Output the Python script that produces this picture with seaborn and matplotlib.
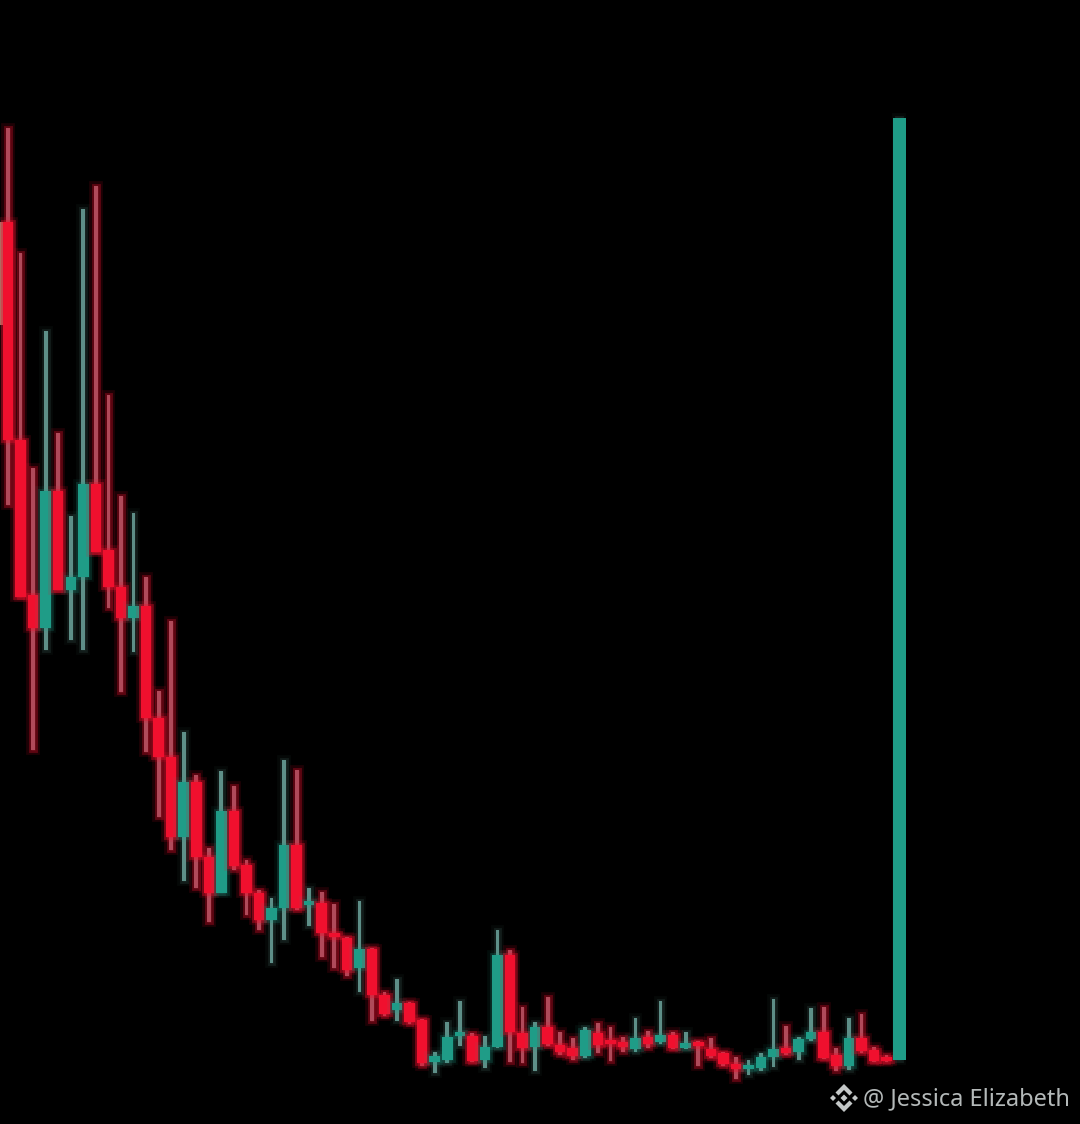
import numpy as np
import pandas as pd
import matplotlib.pyplot as plt
import matplotlib.patheffects as pe
from matplotlib.patches import Polygon
import seaborn as sns

# Candle values, oldest first
opens = [799, 902, 684, 529, 496, 633, 534, 547, 640, 574, 537, 506, 518, 406, 367, 287, 342, 267, 231, 313, 259, 231,
         204, 216, 279, 219, 221, 191, 186, 156, 175, 129, 114, 121, 104, 62, 64, 88, 88, 64, 77, 169, 91, 77, 97, 79,
         76, 68, 91, 82, 82, 75, 87, 82, 89, 76, 81, 75, 71, 60, 55, 56, 67, 76, 72, 85, 92, 69, 58, 86, 74, 66, 64]
highs = [902, 996, 871, 656, 793, 691, 608, 915, 938, 729, 628, 611, 547, 433, 503, 392, 349, 276, 353, 338, 264, 234,
         226, 364, 354, 236, 232, 220, 187, 223, 176, 132, 145, 122, 105, 72, 102, 123, 91, 88, 194, 174, 117, 102,
         127, 92, 86, 97, 101, 97, 87, 106, 93, 123, 92, 92, 83, 86, 72, 67, 64, 71, 125, 98, 87, 116, 117, 76, 106,
         110, 77, 69, 1006]
lows = [799, 619, 527, 374, 474, 534, 484, 474, 572, 516, 432, 472, 372, 307, 274, 243, 236, 202, 231, 254, 209, 194,
        161, 184, 214, 198, 167, 156, 148, 132, 103, 108, 103, 100, 58, 51, 61, 78, 62, 56, 76, 62, 61, 53, 78, 69,
        64, 66, 71, 63, 72, 72, 76, 80, 75, 75, 58, 66, 58, 45, 49, 53, 57, 69, 64, 83, 65, 53, 54, 71, 62, 62, 64]
closes = [902, 684, 527, 496, 633, 534, 547, 640, 572, 537, 506, 518, 406, 367, 287, 342, 267, 231, 313, 258, 231, 204,
          216, 279, 216, 222, 191, 187, 154, 175, 129, 110, 121, 102, 61, 68, 87, 91, 63, 77, 169, 92, 76, 97, 80, 72,
          68, 94, 79, 80, 77, 86, 80, 89, 76, 81, 78, 68, 60, 55, 58, 67, 75, 71, 85, 92, 66, 58, 86, 73, 63, 63, 1006]

RED = '#F0102E'
RED_WICK = '#B04A5A'
GREEN = '#1F9C87'
GREEN_WICK = '#5E8F88'

df = pd.DataFrame({'open': opens, 'high': highs, 'low': lows, 'close': closes})
df['candle'] = np.arange(len(df))
df['up'] = df['close'] >= df['open']
df['body_low'] = df[['open', 'close']].min(axis=1)
df['body_size'] = (df['close'] - df['open']).abs().clip(lower=4)
df['wick_size'] = df['high'] - df['low']


def glow(colour, strength):
    return [pe.withStroke(linewidth=7, foreground=colour, alpha=strength * 0.4),
            pe.withStroke(linewidth=3.5, foreground=colour, alpha=strength),
            pe.Normal()]


sns.set_style('dark')
fig = plt.figure(figsize=(10.8, 11.24), dpi=100, facecolor='black')
ax = fig.add_axes([0, 0, 1, 1])

# Wicks first so the bodies sit on top
sns.barplot(data=df, x='candle', y='wick_size', bottom=df['low'].values, order=list(df['candle']),
            width=0.3, errorbar=None, color=GREEN_WICK, saturation=1, edgecolor='none', ax=ax)
for patch, up in zip(ax.containers[0], df['up']):
    patch.set_facecolor(GREEN_WICK if up else RED_WICK)
    patch.set_path_effects(glow(GREEN_WICK, 0.15) if up else glow(RED, 0.3))

sns.barplot(data=df, x='candle', y='body_size', bottom=df['body_low'].values, order=list(df['candle']),
            width=0.84, errorbar=None, color=GREEN, saturation=1, edgecolor='none', ax=ax)
for patch, up in zip(ax.containers[1], df['up']):
    patch.set_facecolor(GREEN if up else RED)
    patch.set_path_effects(glow(GREEN, 0.2) if up else glow(RED, 0.35))

# the cut-off first candle is washed out in the original
first = ax.containers[1][0]
first.set_facecolor('#A87868')
first.set_width(1.3)
first.set_path_effects([pe.Normal()])

# the last bar is the sharpest and slightly wider one
last = ax.containers[1][-1]
last.set_x(last.get_x() - 0.04)
last.set_width(last.get_width() + 0.14)
last.set_path_effects([pe.Normal()])

ax.set_xlim(0.36, 86.42)
ax.set_ylim(0, 1124)
ax.set_facecolor('black')
ax.set_axis_off()

# Watermark: logo built around its centre, in pixels of the figure
MARK = '#C4C8C8'


def logo_part(points):
    xy = [((844 + px) / 1080, (1124 - 1098 + py) / 1124) for px, py in points]
    fig.add_artist(Polygon(xy, closed=True, color=MARK, lw=0, transform=fig.transFigure))


chevron = [(0, 14), (8.5, 5.5), (5.5, 2.5), (0, 8), (-5.5, 2.5), (-8.5, 5.5)]
logo_part(chevron)
logo_part([(px, -py) for px, py in chevron])
logo_part([(0, 3.5), (3.5, 0), (0, -3.5), (-3.5, 0)])
logo_part([(-14, 0), (-11, 3), (-8, 0), (-11, -3)])
logo_part([(14, 0), (11, 3), (8, 0), (11, -3)])

fig.text(863 / 1080, 1 - 1099 / 1124, '@ Jessica Elizabeth', color='#B4B9B9', fontsize=17,
         family='Noto Sans', ha='left', va='center')

fig.savefig('out.png', dpi=100, facecolor='black')
